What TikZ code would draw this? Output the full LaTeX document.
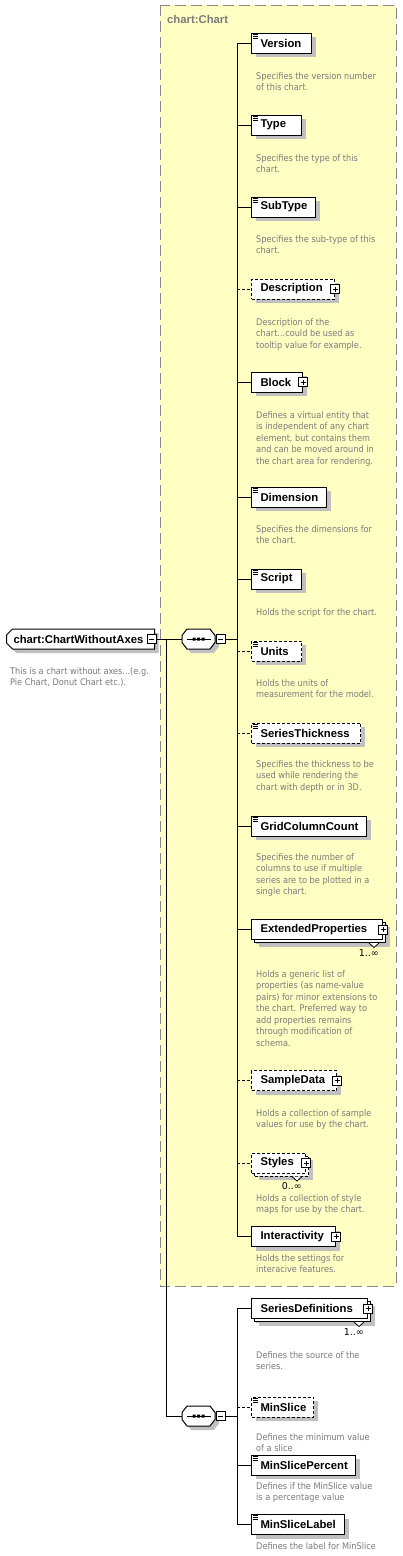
\documentclass[tikz,border=0pt]{standalone}
\usepackage{fontspec}
\setmainfont{Liberation Sans}
\newfontfamily\descfont{DejaVu Sans Condensed}
\newfontfamily\multfont{DejaVu Sans}
\usetikzlibrary{shadows,shapes.misc}
\definecolor{grpfill}{HTML}{FFFFC4}
\definecolor{grpline}{HTML}{888888}
\definecolor{shgray}{HTML}{C0C0C0}
\definecolor{descgray}{HTML}{7A7A7A}
\tikzset{
  x=1pt,y=1pt,
  shad/.style={drop shadow={shadow xshift=4pt,shadow yshift=-4pt,fill=shgray,draw=none,opacity=1}},
  elem/.style={draw=black,fill=white,line width=1pt,anchor=west,minimum height=20pt,inner xsep=9pt,inner ysep=0pt,align=left,font=\bfseries\fontsize{11.3}{12}\selectfont,shad},
  optel/.style={dash pattern=on 3pt off 2pt},
  multi/.style={drop shadow={shadow xshift=7pt,shadow yshift=-7pt,fill=shgray,draw=none,opacity=1},copy shadow={shadow xshift=3pt,shadow yshift=-3pt,draw=black,fill=white}},
  desc/.style={anchor=north west,inner sep=0pt,yshift=0.7pt,align=left,text=descgray,font=\descfont\fontsize{9.1}{11.5}\selectfont,execute at begin node=\rule{0pt}{7pt}},
  conn/.style={draw=black,line width=1pt},
  optc/.style={draw=black,line width=1pt,dash pattern=on 3pt off 2pt},
  pmbox/.style={draw=black,fill=white,solid,line width=0.8pt,minimum size=9pt,inner sep=0pt,outer sep=0pt},
  minusbox/.style={pmbox,path picture={\draw[line width=0.8pt] ([xshift=2pt]path picture bounding box.west)--([xshift=-2pt]path picture bounding box.east);}},
  plusbox/.style={pmbox,path picture={\draw[line width=0.8pt] ([xshift=2pt]path picture bounding box.west)--([xshift=-2pt]path picture bounding box.east) ([yshift=2pt]path picture bounding box.south)--([yshift=-2pt]path picture bounding box.north);}},
  mult/.style={anchor=north east,inner sep=0pt,font=\multfont\fontsize{9.5}{10}\selectfont},
  caret/.style={draw=black,fill=white,line width=0.8pt,solid},
  compcore/.style={draw=none,minimum width=33pt,minimum height=20pt,inner sep=0pt},
  pics/seqshape/.style={code={
    \fill[shgray,shift={(4,-4)}] (-16.5,-3.5)--(-11.5,-10)--(11.5,-10)--(16.5,-3.5)--(16.5,3.5)--(11.5,10)--(-11.5,10)--(-16.5,3.5)--cycle;
    \draw[fill=white,line width=1pt] (-16.5,-3.5)--(-11.5,-10)--(11.5,-10)--(16.5,-3.5)--(16.5,3.5)--(11.5,10)--(-11.5,10)--(-16.5,3.5)--cycle;
    \draw[line width=1pt] (-12,0)--(12,0);
    \fill[black] (-6,-1.5) rectangle ++(3,3) (-1.5,-1.5) rectangle ++(3,3) (3,-1.5) rectangle ++(3,3);}},
  rootel/.style={chamfered rectangle,chamfered rectangle corners={north west,south west},chamfered rectangle xsep=3pt,chamfered rectangle ysep=3pt,draw=black,fill=white,line width=1pt,minimum width=146pt,minimum height=20pt,inner xsep=4pt,inner ysep=0pt,anchor=west,font=\bfseries\fontsize{11.3}{12}\selectfont,shad},
  pics/docicon/.style={code={\draw[line width=0.8pt,solid] (1.5,-1.8)--(7,-1.8) (1.5,-3.8)--(7,-3.8) (1.5,-5.8)--(7,-5.8);}},
}
\begin{document}
\begin{tikzpicture}
\useasboundingbox (0,0) rectangle (402,-1556);
\fill[white] (0,0) rectangle (402,-1556);
% group box
\draw[draw=grpline,fill=grpfill,line width=1pt,dash pattern=on 11pt off 5pt] (160,-5) rectangle (396,-1286);
\node[anchor=west,inner sep=0pt,text=descgray,font=\bfseries\fontsize{11.3}{12}\selectfont] (grptitle) at (167,-19) {chart:Chart};

% root
\node[rootel] (root) at (6,-639) {\makebox[134pt][l]{chart:ChartWithoutAxes}};
\node[minusbox] (rootm) at (151.5,-639) {};
\node[desc] (rootd) at (10,-668) {This is a chart without axes...(e.g.\\Pie Chart, Donut Chart etc.).};

% compositors
\node[compcore] (seq1) at (198.5,-639) {};
\pic at (seq1.center) {seqshape};
\node[minusbox] (s1m) at (220.5,-639) {};
\node[compcore] (seq2) at (198.5,-1416) {};
\pic at (seq2.center) {seqshape};
\node[minusbox] (s2m) at (220.5,-1416) {};

% elements of chart:Chart
\node[elem,text width=42pt] (version) at (251,-43) {Version};
\pic at (version.north west) {docicon};
\node[desc] (versiond) at (256,-73) {Specifies the version number\\of this chart.};

\node[elem,text width=32pt] (type) at (251,-125) {Type};
\pic at (type.north west) {docicon};
\node[desc] (typed) at (256,-155) {Specifies the type of this\\chart.};

\node[elem,text width=46pt] (subtype) at (251,-207) {SubType};
\pic at (subtype.north west) {docicon};
\node[desc] (subtyped) at (256,-236) {Specifies the sub-type of this\\chart.};

\node[elem,optel,text width=65pt] (description) at (251,-289) {Description};
\node[plusbox] (descriptionp) at (description.east) {};
\node[desc] (descriptiond) at (256,-319) {Description of the\\chart...could be used as\\tooltip value for example.};

\node[elem,text width=33pt] (block) at (251,-382) {Block};
\node[plusbox] (blockp) at (block.east) {};
\node[desc] (blockd) at (256,-412) {Defines a virtual entity that\\is independent of any chart\\element, but contains them\\and can be moved around in\\the chart area for rendering.};

\node[elem,text width=57pt] (dimension) at (251,-497) {Dimension};
\pic at (dimension.north west) {docicon};
\node[desc] (dimensiond) at (256,-526) {Specifies the dimensions for\\the chart.};

\node[elem,text width=32pt] (script) at (251,-579) {Script};
\pic at (script.north west) {docicon};
\node[desc] (scriptd) at (256,-609) {Holds the script for the chart.};

\node[elem,optel,text width=32pt] (units) at (251,-651) {Units};
\pic at (units.north west) {docicon};
\node[desc] (unitsd) at (256,-680) {Holds the units of\\measurement for the model.};

\node[elem,optel,text width=91pt] (seriesthick) at (251,-733) {SeriesThickness};
\pic at (seriesthick.north west) {docicon};
\node[desc] (seriesthickd) at (256,-761) {Specifies the thickness to be\\used while rendering the\\chart with depth or in 3D.};

\node[elem,text width=97pt] (gridcol) at (251,-826) {GridColumnCount};
\pic at (gridcol.north west) {docicon};
\node[desc] (gridcold) at (256,-854) {Specifies the number of\\columns to use if multiple\\series are to be plotted in a\\single chart.};

\node[elem,multi,text width=113pt] (extprop) at (251,-929.5) {ExtendedProperties};
\node[plusbox] (extpropp) at (extprop.east) {};
\draw[caret] ([xshift=-14pt,yshift=-3pt]extprop.south east) -- ([xshift=-9pt,yshift=-7.5pt]extprop.south east) -- ([xshift=-4pt,yshift=-3pt]extprop.south east);
\node[mult] (extpropm) at ([xshift=-4pt,yshift=-9.5pt]extprop.south east) {1..∞};
\node[desc] (extpropd) at (256,-971) {Holds a generic list of\\properties (as name-value\\pairs) for minor extensions to\\the chart. Preferred way to\\add properties remains\\through modification of\\schema.};

\node[elem,optel,text width=67pt] (sampledata) at (251,-1080.5) {SampleData};
\node[plusbox] (sampledatap) at (sampledata.east) {};
\node[desc] (sampledatad) at (256,-1110) {Holds a collection of sample\\values for use by the chart.};

\node[elem,optel,multi,text width=36pt] (styles) at (251,-1163) {Styles};
\node[plusbox] (stylesp) at (styles.east) {};
\draw[caret] ([xshift=-14pt,yshift=-3pt]styles.south east) -- ([xshift=-9pt,yshift=-7.5pt]styles.south east) -- ([xshift=-4pt,yshift=-3pt]styles.south east);
\node[mult] (stylesm) at ([xshift=-4pt,yshift=-9pt]styles.south east) {0..∞};
\node[desc] (stylesd) at (256,-1195) {Holds a collection of style\\maps for use by the chart.};

\node[elem,text width=66pt] (interact) at (251,-1236.5) {Interactivity};
\node[plusbox] (interactp) at (interact.east) {};
\node[desc] (interactd) at (256,-1255) {Holds the settings for\\interacive features.};

% second sequence
\node[elem,multi,text width=98pt] (seriesdef) at (251,-1308.5) {SeriesDefinitions};
\node[plusbox] (seriesdefp) at (seriesdef.east) {};
\draw[caret] ([xshift=-14pt,yshift=-3pt]seriesdef.south east) -- ([xshift=-9pt,yshift=-7.5pt]seriesdef.south east) -- ([xshift=-4pt,yshift=-3pt]seriesdef.south east);
\node[mult] (seriesdefm) at ([xshift=-4pt,yshift=-9.5pt]seriesdef.south east) {1..∞};
\node[desc] (seriesdefd) at (256,-1352) {Defines the source of the\\series.};

\node[elem,optel,text width=44pt] (minslice) at (251,-1407) {MinSlice};
\pic at (minslice.north west) {docicon};
\node[desc] (minsliced) at (256,-1434) {Defines the minimum value\\of a slice};

\node[elem,text width=86pt] (minslicepct) at (251,-1465) {MinSlicePercent};
\pic at (minslicepct.north west) {docicon};
\node[desc] (minslicepctd) at (256,-1483) {Defines if the MinSlice value\\is a percentage value};

\node[elem,text width=75pt] (minslicelbl) at (251,-1524.5) {MinSliceLabel};
\pic at (minslicelbl.north west) {docicon};
\node[desc] (minslicelbld) at (256,-1543) {Defines the label for MinSlice};

% connectors
\coordinate (rb) at (166,-639);
\coordinate (b1) at (237,-639);
\coordinate (b2) at (237,-1416);
\draw[conn] (rootm.east) -- (seq1.west);
\draw[conn] (rb) |- (seq2.west);
\draw[conn] (s1m.east) -- (b1);
\draw[conn] (s2m.east) -- (b2);
\draw[conn] (version.west) -| (b1 |- interact.west) -- (interact.west);
\draw[conn] (b1 |- type.west) -- (type.west);
\draw[conn] (b1 |- subtype.west) -- (subtype.west);
\draw[optc] (b1 |- description.west) -- (description.west);
\draw[conn] (b1 |- block.west) -- (block.west);
\draw[conn] (b1 |- dimension.west) -- (dimension.west);
\draw[conn] (b1 |- script.west) -- (script.west);
\draw[optc] (b1 |- units.west) -- (units.west);
\draw[optc] (b1 |- seriesthick.west) -- (seriesthick.west);
\draw[conn] (b1 |- gridcol.west) -- (gridcol.west);
\draw[conn] (b1 |- extprop.west) -- (extprop.west);
\draw[optc] (b1 |- sampledata.west) -- (sampledata.west);
\draw[optc] (b1 |- styles.west) -- (styles.west);
\draw[conn] (seriesdef.west) -| (b2 |- minslicelbl.west) -- (minslicelbl.west);
\draw[optc] (b2 |- minslice.west) -- (minslice.west);
\draw[conn] (b2 |- minslicepct.west) -- (minslicepct.west);
\end{tikzpicture}
\end{document}
